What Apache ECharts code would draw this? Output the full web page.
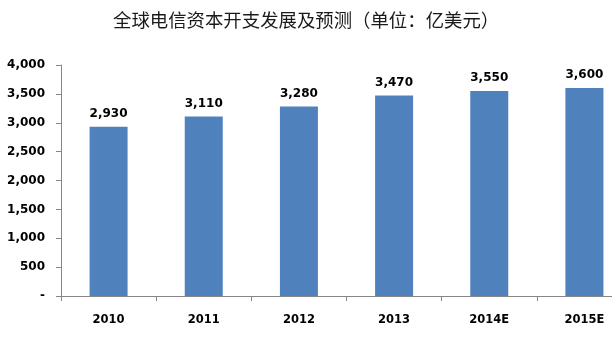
<!DOCTYPE html>
<html>
<head>
<meta charset="utf-8">
<script src="https://cdn.jsdelivr.net/npm/echarts@6/dist/echarts.min.js"></script>
<style>
  html, body { margin: 0; padding: 0; background: #fff; overflow: hidden; width: 612px; height: 345px; }
  /* plot runs past the right edge of the view, so the canvas is wider than the window */
  #chart { width: 640px; height: 345px; }
</style>
</head>
<body>
<div id="chart"></div>
<script>
// Global telecom capex, actual and forecast (100 million USD)
const categories = ['2010', '2011', '2012', '2013', '2014E', '2015E'];
const capex = [2930, 3110, 3280, 3470, 3550, 3600];
const yTicks = { min: 0, max: 4000, interval: 500 };
const titleText = '全球电信资本开支发展及预测（单位：亿美元）';

const fmt = v => v === 0 ? '-' : v.toLocaleString('en-US');
const labelFont = 'Tahoma, "DejaVu Sans", sans-serif';

const chart = echarts.init(document.getElementById('chart'), null, { renderer: 'canvas' });
chart.setOption({
  animation: false,
  backgroundColor: '#ffffff',
  title: {
    text: titleText,
    left: 108,
    top: 6,
    textStyle: {
      fontFamily: '"Noto Sans CJK SC", sans-serif',
      fontSize: 18.4,
      fontWeight: 'normal',
      color: '#1a1a1a'
    }
  },
  grid: { left: 61, top: 65, width: 571, height: 231, containLabel: false },
  xAxis: {
    type: 'category',
    data: categories,
    axisLine: { lineStyle: { color: '#868686', width: 1 } },
    axisTick: { show: true, alignWithLabel: false, length: 5, lineStyle: { color: '#868686' } },
    axisLabel: {
      margin: 18,
      fontFamily: labelFont,
      fontSize: 11.5,
      fontWeight: 'bold',
      color: '#000'
    },
    splitLine: { show: false }
  },
  yAxis: {
    type: 'value',
    min: yTicks.min,
    max: yTicks.max,
    interval: yTicks.interval,
    axisLine: { show: true, lineStyle: { color: '#868686', width: 1 } },
    axisTick: { show: true, length: 5, lineStyle: { color: '#868686' } },
    axisLabel: {
      margin: 16,
      fontFamily: labelFont,
      fontSize: 12,
      fontWeight: 'bold',
      color: '#000',
      formatter: fmt
    },
    splitLine: { show: false }
  },
  series: [{
    type: 'bar',
    data: capex,
    barWidth: 38,
    itemStyle: { color: '#4F81BD' },
    label: {
      show: true,
      position: 'top',
      distance: 7,
      fontFamily: labelFont,
      fontSize: 12,
      fontWeight: 'bold',
      color: '#000',
      formatter: p => fmt(p.value)
    }
  }]
});
</script>
</body>
</html>
